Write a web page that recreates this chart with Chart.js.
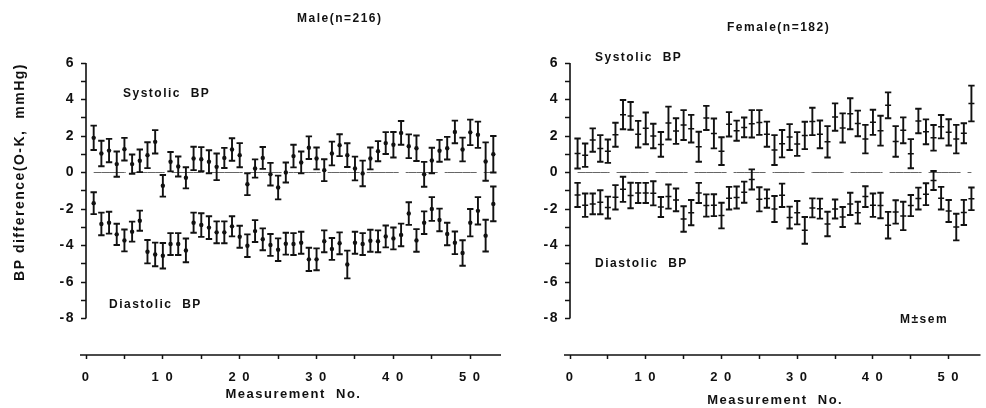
<!DOCTYPE html>
<html>
<head>
<meta charset="utf-8">
<script src="https://cdn.jsdelivr.net/npm/chart.js@4.4.1/dist/chart.umd.min.js"></script>
<style>
  body { margin: 0; width: 986px; height: 408px; background: #fff; position: relative; overflow: hidden;
         font-family: "Liberation Sans", Arial, sans-serif; }
  canvas { position: absolute; top: 0; }
  #maleChart { left: 0; }
  #femaleChart { left: 505px; }
  .lbl { position: absolute; font-weight: bold; font-size: 12px; letter-spacing: 1.5px; color: #111;
         white-space: pre; line-height: 14px; }
</style>
</head>
<body>
<canvas id="maleChart" width="505" height="408"></canvas>
<canvas id="femaleChart" width="481" height="408"></canvas>

<div class="lbl" style="left:297px; top:11px;">Male(n=216)</div>
<div class="lbl" style="left:727px; top:20px;">Female(n=182)</div>
<div class="lbl" style="left:123px; top:86px;">Systolic  BP</div>
<div class="lbl" style="left:109px; top:297px;">Diastolic  BP</div>
<div class="lbl" style="left:595px; top:50px;">Systolic  BP</div>
<div class="lbl" style="left:595px; top:256px;">Diastolic  BP</div>
<div class="lbl" style="left:900px; top:312px;">M±sem</div>

<script>
// Measurement number (x) for each reading
const measurementNo = [1, 2, 3, 4, 5, 6, 7, 8, 9, 10, 11, 12, 13, 14, 15, 16, 17, 18, 19, 20,
  21, 22, 23, 24, 25, 26, 27, 28, 29, 30, 31, 32, 33, 34, 35, 36, 37, 38, 39, 40,
  41, 42, 43, 44, 45, 46, 47, 48, 49, 50, 51, 52, 53];

// Male (n=216): mean BP difference (O-K, mmHg) and sem
const maleSystolic = [1.9, 1.04, 1.2, 0.46, 1.28, 0.46, 0.64, 0.95, 1.68, -0.73,
  0.59, 0.33, -0.29, 0.77, 0.73, 0.59, 0.31, 0.8, 1.26, 0.95,
  -0.64, 0.22, 0.8, -0.09, -0.82, 0.0, 0.9, 0.55, 1.36, 0.77,
  0.13, 1.04, 1.5, 0.95, 0.22, -0.05, 0.77, 1.17, 1.61, 1.52,
  2.17, 1.44, 1.33, -0.1, 0.66, 1.19, 1.33, 2.22, 1.26, 2.2,
  2.07, 0.6, 1.0];
const maleSystolicSem = [0.67, 0.7, 0.64, 0.69, 0.62, 0.53, 0.62, 0.71, 0.64, 0.59,
  0.53, 0.55, 0.58, 0.64, 0.66, 0.63, 0.73, 0.55, 0.62, 0.66,
  0.6, 0.5, 0.6, 0.62, 0.65, 0.55, 0.62, 0.6, 0.62, 0.6,
  0.6, 0.65, 0.6, 0.65, 0.65, 0.7, 0.6, 0.55, 0.6, 0.7,
  0.65, 0.65, 0.7, 0.68, 0.7, 0.6, 0.62, 0.62, 0.65, 0.7,
  0.72, 1.05, 1.0];
const maleDiastolic = [-1.68, -2.82, -2.75, -3.39, -3.72, -3.24, -2.64, -4.34, -4.49, -4.56,
  -3.92, -3.92, -4.27, -2.75, -2.88, -3.02, -3.28, -3.28, -2.95, -3.52,
  -4.01, -3.21, -3.66, -3.97, -4.23, -3.9, -3.92, -3.85, -4.76, -4.76,
  -3.77, -4.19, -3.88, -5.04, -3.85, -3.92, -3.74, -3.77, -3.5, -3.61,
  -3.42, -2.25, -3.72, -2.75, -2.0, -2.6, -3.37, -3.85, -4.41, -2.75,
  -2.1, -3.46, -1.72];
const maleDiastolicSem = [0.6, 0.62, 0.6, 0.58, 0.6, 0.55, 0.55, 0.64, 0.65, 0.7,
  0.6, 0.6, 0.65, 0.55, 0.65, 0.62, 0.6, 0.6, 0.55, 0.6,
  0.62, 0.6, 0.6, 0.6, 0.62, 0.6, 0.6, 0.6, 0.64, 0.6,
  0.6, 0.6, 0.6, 0.76, 0.6, 0.6, 0.6, 0.6, 0.6, 0.6,
  0.62, 0.62, 0.62, 0.62, 0.65, 0.62, 0.62, 0.62, 0.7, 0.75,
  0.75, 0.87, 0.95];

// Female (n=182)
const femaleSystolic = [1.04, 0.95, 1.78, 1.32, 1.17, 2.07, 3.17, 3.1, 2.1, 2.42,
  2.0, 1.54, 2.71, 2.27, 2.6, 2.4, 1.41, 2.99, 2.14, 1.17,
  2.64, 2.29, 2.47, 2.67, 2.74, 2.1, 1.23, 1.58, 1.94, 1.56,
  2.03, 2.8, 2.09, 1.68, 3.04, 2.44, 3.22, 2.69, 1.83, 2.75,
  2.29, 3.68, 1.7, 2.31, 1.03, 2.82, 2.23, 1.9, 2.51, 2.2,
  1.83, 2.15, 3.78];
const femaleSystolicSem = [0.82, 0.64, 0.64, 0.73, 0.64, 0.66, 0.8, 0.76, 0.73, 0.87,
  0.67, 0.68, 0.9, 0.7, 0.82, 0.76, 0.82, 0.66, 0.82, 0.76,
  0.67, 0.55, 0.54, 0.75, 0.68, 0.69, 0.82, 0.75, 0.71, 0.65,
  0.75, 0.75, 0.76, 0.86, 0.75, 0.8, 0.85, 0.7, 0.78, 0.69,
  0.82, 0.71, 0.84, 0.71, 0.8, 0.67, 0.68, 0.7, 0.64, 0.72,
  0.78, 0.55, 0.98];
const femaleDiastolic = [-1.23, -1.79, -1.72, -1.63, -1.92, -1.36, -0.92, -1.26, -1.12, -1.12,
  -1.14, -1.89, -1.32, -1.5, -2.55, -2.2, -1.12, -1.81, -1.79, -2.36,
  -1.41, -1.37, -1.08, -0.38, -1.47, -1.43, -2.0, -1.25, -2.47, -2.2,
  -3.17, -1.94, -1.98, -2.82, -2.0, -2.44, -1.72, -2.2, -1.32, -1.79,
  -1.81, -2.89, -2.16, -2.38, -1.81, -1.43, -1.19, -0.44, -1.41, -2.11,
  -2.99, -2.19, -1.44];
const femaleDiastolicSem = [0.66, 0.64, 0.57, 0.66, 0.6, 0.67, 0.69, 0.7, 0.55, 0.55,
  0.66, 0.55, 0.66, 0.62, 0.7, 0.69, 0.55, 0.61, 0.6, 0.7,
  0.62, 0.6, 0.58, 0.55, 0.66, 0.5, 0.71, 0.64, 0.6, 0.64,
  0.73, 0.52, 0.55, 0.67, 0.52, 0.55, 0.61, 0.6, 0.57, 0.64,
  0.7, 0.73, 0.64, 0.78, 0.58, 0.6, 0.6, 0.52, 0.62, 0.6,
  0.73, 0.69, 0.62];

// Axis tick labels
const xTickLabels = [0, 10, 20, 30, 40, 50];
const yTickLabels = [6, 4, 2, 0, -2, -4, -6, -8];

Chart.defaults.font.family = '"Liberation Sans", Arial, sans-serif';
Chart.defaults.font.weight = 'bold';
Chart.defaults.color = '#111';

// the scanned original is letter-spaced everywhere
const spacing = {
  id: 'spacing',
  beforeLayout(chart) { chart.ctx.letterSpacing = '1.5px'; },
  beforeDraw(chart) { chart.ctx.letterSpacing = '1.5px'; }
};

// sem bars plus the two axis lines
const semBars = {
  id: 'semBars',
  afterDatasetsDraw(chart) {
    const { ctx, scales: { x, y } } = chart;
    ctx.save();
    ctx.strokeStyle = '#111';
    ctx.lineWidth = 1.9;
    chart.data.datasets.forEach(ds => {
      if (!ds.sem) return;
      ds.data.forEach((p, i) => {
        const px = x.getPixelForValue(p.x);
        const hi = y.getPixelForValue(p.y + ds.sem[i]);
        const lo = y.getPixelForValue(p.y - ds.sem[i]);
        ctx.beginPath();
        ctx.moveTo(px, hi); ctx.lineTo(px, lo);
        ctx.moveTo(px - 3.2, hi); ctx.lineTo(px + 3.2, hi);
        ctx.moveTo(px - 3.2, lo); ctx.lineTo(px + 3.2, lo);
        ctx.stroke();
      });
    });
    ctx.restore();
  },
  afterDraw(chart) {
    const { ctx, scales: { y }, chartArea } = chart;
    ctx.save();
    ctx.strokeStyle = '#111';
    ctx.lineWidth = 1.6;
    ctx.beginPath();
    ctx.moveTo(chartArea.left, y.getPixelForValue(yTickLabels[0]));
    ctx.lineTo(chartArea.left, y.getPixelForValue(yTickLabels[yTickLabels.length - 1]));
    ctx.moveTo(chartArea.left - 6, chartArea.bottom);
    ctx.lineTo(chartArea.right, chartArea.bottom);
    ctx.stroke();
    ctx.restore();
  }
};

function points(values) {
  return values.map((v, i) => ({ x: measurementNo[i], y: v }));
}

// ticks come back as floats, so compare on the rounded value
const whole = v => Math.abs(v - Math.round(v)) < 1e-6;

function makePanel(id, systolic, systolicSem, diastolic, diastolicSem, cfg) {
  const marker = cfg.dots
    ? { pointStyle: 'circle', pointRadius: 2.2, backgroundColor: '#111', borderColor: '#111', borderWidth: 0 }
    : { pointStyle: 'line', pointRadius: 3, borderColor: '#111', borderWidth: 1.5 };

  return new Chart(document.getElementById(id), {
    type: 'scatter',
    data: {
      datasets: [
        {
          label: 'zero',
          data: measurementNo.map(n => ({ x: n, y: 0 })),
          showLine: true,
          pointRadius: 0,
          borderColor: '#666',
          borderWidth: 1,
          borderDash: [32, 7]
        },
        Object.assign({ label: 'Systolic BP', data: points(systolic), sem: systolicSem }, marker),
        Object.assign({ label: 'Diastolic BP', data: points(diastolic), sem: diastolicSem }, marker)
      ]
    },
    options: {
      responsive: false,
      animation: false,
      layout: { padding: { top: 63, right: cfg.padRight, bottom: cfg.padBottom, left: 0 } },
      plugins: { legend: { display: false }, tooltip: { enabled: false } },
      scales: {
        x: {
          type: 'linear',
          min: 0,
          max: cfg.xMax,
          afterFit: s => { s.height = 53 - cfg.padBottom; },
          border: { display: false },
          grid: {
            drawOnChartArea: false,
            tickLength: 4,
            tickWidth: 1.5,
            tickColor: c => (c.tick && whole(c.tick.value / 5) ? '#111' : 'rgba(0,0,0,0)')
          },
          ticks: {
            stepSize: 5,
            includeBounds: false,
            autoSkip: false,
            maxRotation: 0,
            padding: 11,
            font: { size: 13, weight: 'bold' },
            callback: v => (xTickLabels.includes(Math.round(v)) && whole(v)
              ? String(Math.round(v)).split('').join(' ') : '')
          },
          title: {
            display: true,
            text: 'Measurement  No.',
            font: { size: 13, weight: 'bold' },
            padding: { top: 0, bottom: 0 }
          }
        },
        y: {
          min: -10,
          max: 6,
          afterFit: s => { s.width = cfg.yWidth; },
          border: { display: false },
          grid: {
            drawOnChartArea: false,
            tickLength: 5,
            tickWidth: 1.5,
            tickColor: c => (c.tick && c.tick.value >= -8.001 ? '#111' : 'rgba(0,0,0,0)')
          },
          ticks: {
            stepSize: 1,
            autoSkip: false,
            padding: 6,
            font: { size: 14, weight: 'bold' },
            callback: v => (yTickLabels.includes(Math.round(v)) && whole(v) ? String(Math.round(v)) : '')
          },
          title: {
            display: cfg.yTitle,
            text: 'BP difference(O-K,  mmHg)',
            align: 'end',
            font: { size: 14, weight: 'bold' },
            padding: { top: 12, bottom: 0 }
          }
        }
      }
    },
    plugins: [spacing, semBars]
  });
}

makePanel('maleChart', maleSystolic, maleSystolicSem, maleDiastolic, maleDiastolicSem,
  { dots: true, xMax: 54, padRight: 2, padBottom: 6, yWidth: 86, yTitle: true });
makePanel('femaleChart', femaleSystolic, femaleSystolicSem, femaleDiastolic, femaleDiastolicSem,
  { dots: false, xMax: 54.2, padRight: 0, padBottom: 0, yWidth: 65, yTitle: false });
</script>
</body>
</html>
